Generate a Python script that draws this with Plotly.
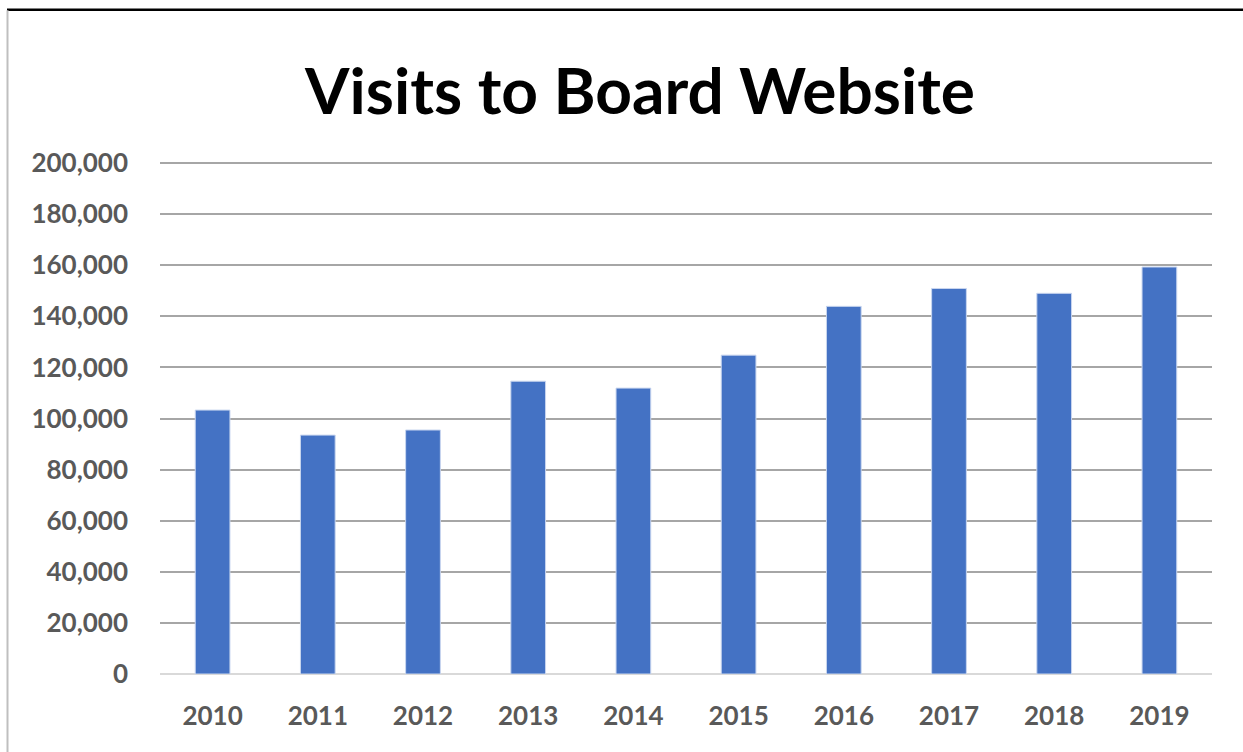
import plotly.graph_objects as go

years = ["2010", "2011", "2012", "2013", "2014", "2015", "2016", "2017", "2018", "2019"]
visits = [103300, 93500, 95500, 114600, 111900, 124800, 143900, 150900, 149000, 159300]
y_ticks = [0, 20000, 40000, 60000, 80000, 100000, 120000, 140000, 160000, 180000, 200000]
y_tick_labels = ["0", "20,000", "40,000", "60,000", "80,000", "100,000", "120,000",
                 "140,000", "160,000", "180,000", "200,000"]

W, H = 1243, 752
L, R, T, B = 160, 31, 162, 77.5
pw, ph = W - L - R, H - T - B

fig = go.Figure(go.Bar(
    x=years, y=visits,
    marker=dict(color="#4472C4", line=dict(color="#c9d6ef", width=1)),
    width=0.33,
))

fig.update_layout(
    width=W, height=H,
    margin=dict(l=L, r=R, t=T, b=B, pad=0),
    paper_bgcolor="white", plot_bgcolor="white",
    showlegend=False,
    title=dict(text="<b>Visits to Board Website</b>", x=(640 - L) / pw, xref="paper",
               xanchor="center", y=1 - 92 / H, yanchor="middle",
               font=dict(family="Lato, Open Sans, sans-serif", size=64, color="#000000")),
    font=dict(family="Lato, Open Sans, sans-serif"),
)

fig.update_xaxes(showgrid=False, showline=False, ticks="",
                 tickfont=dict(size=26, color="#595959", family="Lato, sans-serif", weight="bold"),
                 ticklabelstandoff=24)
fig.update_yaxes(range=[0, 200400], tickvals=y_ticks, ticktext=y_tick_labels,
                 showgrid=True, gridcolor="#a6a6a6", gridwidth=2,
                 zeroline=True, zerolinecolor="#d9d9d9", zerolinewidth=2,
                 showline=False, ticks="",
                 tickfont=dict(size=26, color="#595959", family="Lato, sans-serif", weight="bold"),
                 ticklabelstandoff=31)

# frame lines: black top edge, gray left edge
fig.add_shape(type="line", xref="paper", yref="paper",
              x0=(7 - L) / pw, x1=(W - L) / pw + 0.01, y0=(H - B - 9.5) / ph, y1=(H - B - 9.5) / ph,
              line=dict(color="#000000", width=2.5))
fig.add_shape(type="line", xref="paper", yref="paper",
              x0=(7.5 - L) / pw, x1=(7.5 - L) / pw, y0=(H - B - 10) / ph, y1=-B / ph - 0.01,
              line=dict(color="#bfbfbf", width=2))

fig.write_html("out.html", config={"displayModeBar": False},
               post_script="document.body.style.margin='0';document.body.style.overflow='hidden';")
